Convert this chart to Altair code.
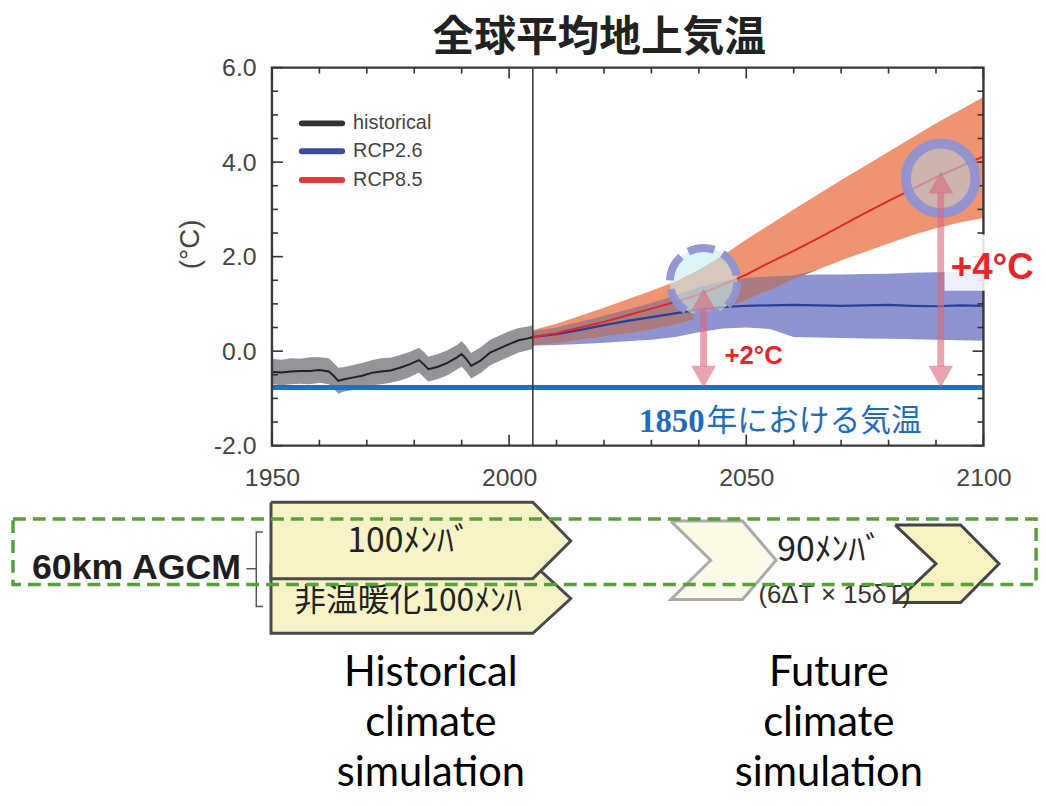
import altair as alt
import pandas as pd

# ---------------- data ----------------
title_text = "全球平均地上気温"
y_unit = "(°C)"

hist_years = [1950, 1952, 1954, 1956, 1958, 1960, 1962, 1963, 1964, 1965,
              1967, 1969, 1971, 1973, 1975, 1977, 1979, 1981, 1982, 1983,
              1985, 1987, 1989, 1990, 1991, 1992, 1994, 1996, 1998, 2000,
              2002, 2004, 2005]
hist_mean = [-0.44, -0.45, -0.43, -0.42, -0.42, -0.40, -0.43, -0.52, -0.63, -0.60,
             -0.56, -0.52, -0.46, -0.43, -0.41, -0.35, -0.28, -0.19, -0.28, -0.38,
             -0.33, -0.25, -0.13, -0.06, -0.17, -0.31, -0.20, -0.03, 0.06, 0.15,
             0.23, 0.27, 0.30]
hist_upper = [-0.16, -0.18, -0.15, -0.16, -0.13, -0.13, -0.15, -0.25, -0.35, -0.34,
              -0.30, -0.25, -0.19, -0.15, -0.14, -0.08, -0.02, 0.07, -0.01, -0.12,
              -0.06, 0.02, 0.13, 0.21, 0.10, -0.04, 0.08, 0.24, 0.33, 0.42,
              0.49, 0.52, 0.55]
hist_lower = [-0.70, -0.72, -0.70, -0.69, -0.70, -0.67, -0.70, -0.79, -0.90, -0.86,
              -0.82, -0.78, -0.72, -0.70, -0.67, -0.62, -0.55, -0.45, -0.55, -0.64,
              -0.59, -0.51, -0.39, -0.33, -0.44, -0.58, -0.46, -0.30, -0.21, -0.12,
              -0.03, 0.02, 0.05]

fut_years = [2005, 2010, 2015, 2020, 2025, 2030, 2035, 2040, 2045, 2050,
             2055, 2060, 2065, 2070, 2075, 2080, 2085, 2090, 2095, 2100]
rcp85_mean = [0.30, 0.38, 0.50, 0.62, 0.76, 0.90, 1.04, 1.20, 1.40, 1.62,
              1.88, 2.12, 2.38, 2.65, 2.92, 3.18, 3.43, 3.68, 3.90, 4.12]
rcp85_upper = [0.45, 0.58, 0.75, 0.92, 1.10, 1.28, 1.47, 1.72, 2.02, 2.36,
               2.68, 3.00, 3.31, 3.62, 3.92, 4.22, 4.52, 4.82, 5.10, 5.38]
rcp85_lower = [0.12, 0.17, 0.24, 0.31, 0.38, 0.46, 0.56, 0.70, 0.88, 1.08,
               1.30, 1.52, 1.72, 1.92, 2.10, 2.28, 2.45, 2.60, 2.72, 2.82]
rcp26_mean = [0.30, 0.36, 0.45, 0.55, 0.64, 0.72, 0.80, 0.88, 0.93, 0.96,
              0.97, 0.98, 0.97, 0.96, 0.97, 0.98, 0.96, 0.95, 0.97, 0.96]
rcp26_upper = [0.42, 0.50, 0.62, 0.75, 0.88, 1.02, 1.18, 1.35, 1.48, 1.55,
               1.58, 1.60, 1.62, 1.62, 1.63, 1.64, 1.66, 1.67, 1.68, 1.70]
rcp26_lower = [0.12, 0.13, 0.15, 0.18, 0.21, 0.24, 0.30, 0.40, 0.48, 0.50,
               0.47, 0.30, 0.29, 0.28, 0.27, 0.26, 0.25, 0.24, 0.23, 0.22]

t_1850 = -0.77
split_year = 2005

legend_labels = ["historical", "RCP2.6", "RCP8.5"]
legend_colors = ["#333333", "#3b4ca0", "#e23a3a"]

x_major = [1950, 2000, 2050, 2100]
x_minor = [1960, 1970, 1980, 1990, 2010, 2020, 2030, 2040, 2060, 2070, 2080, 2090]
y_major = [-2, 0, 2, 4, 6]
y_minor = [-1.5, -1, -0.5, 0.5, 1, 1.5, 2.5, 3, 3.5, 4.5, 5, 5.5]

# markers of +2 / +4 degree years
mark_years = [2041, 2091]
mark_temps = [1.47, 3.66]
arrow_tops = [1.32, 3.80]

# ---------------- helpers ----------------
xs = alt.Scale(domain=[1950, 2100], nice=False, zero=False)
ys = alt.Scale(domain=[-2, 6], nice=False, zero=False)

x_axis = alt.Axis(values=x_major, format="d", ticks=False, domain=False, grid=False,
                  labelFlush=False, labelOverlap=False, labelFontSize=25,
                  labelFont="Liberation Sans", labelColor="#444", labelPadding=20, title=None)
y_axis = alt.Axis(values=y_major,
                  labelExpr="datum.value < 0 ? '-' + format(-datum.value, '.1f') : format(datum.value, '.1f')",
                  ticks=False, domain=False, grid=False, labelFontSize=25,
                  labelFont="Liberation Sans", labelColor="#444", labelPadding=16, title=None)


def X(f):
    return alt.X(f, type="quantitative", scale=xs, axis=x_axis)


def Y(f):
    return alt.Y(f, type="quantitative", scale=ys, axis=y_axis)


def text_layer(x, y, text, **mk):
    df = pd.DataFrame({"x": [x], "y": [y], "t": [text]})
    return alt.Chart(df).mark_text(**mk).encode(x=X("x"), y=Y("y"), text="t:N")


def poly(px, py, **mk):
    px = list(px) + [px[0]]
    py = list(py) + [py[0]]
    df = pd.DataFrame({"x": px, "y": py, "o": list(range(len(px)))})
    return alt.Chart(df).mark_line(**mk).encode(x=X("x"), y=Y("y"), order=alt.Order("o:Q"))


hist_df = pd.DataFrame({"x": hist_years, "m": hist_mean, "lo": hist_lower, "hi": hist_upper})
fut_df = pd.DataFrame({"x": fut_years,
                       "r_m": rcp85_mean, "r_lo": rcp85_lower, "r_hi": rcp85_upper,
                       "b_m": rcp26_mean, "b_lo": rcp26_lower, "b_hi": rcp26_upper})

layers = []

# bands
layers.append(alt.Chart(hist_df).mark_area(color="#939398").encode(x=X("x"), y=Y("lo"), y2="hi"))
layers.append(alt.Chart(fut_df).mark_area(color="#8f93cf").encode(x=X("x"), y=Y("b_lo"), y2="b_hi"))
layers.append(alt.Chart(fut_df).mark_area(color="#ef9473").encode(x=X("x"), y=Y("r_lo"), y2="r_hi"))
layers.append(alt.Chart(fut_df).transform_calculate(
    olo="max(datum.r_lo, datum.b_lo)",
    ohi="max(max(datum.r_lo, datum.b_lo), min(datum.r_hi, datum.b_hi))"
).mark_area(color="#a97b82").encode(x=X("x"), y=Y("olo"), y2="ohi"))

# 1850 baseline
base_df = pd.DataFrame({"x": [1950], "x2": [2100], "y": [t_1850]})
layers.append(alt.Chart(base_df).mark_rule(color="#1f72c3", strokeWidth=5).encode(
    x=X("x"), x2="x2", y=Y("y")))

# lines
layers.append(alt.Chart(hist_df).mark_line(color="#222222", strokeWidth=2).encode(x=X("x"), y=Y("m")))
layers.append(alt.Chart(fut_df).mark_line(color="#2c3f98", strokeWidth=2.2).encode(x=X("x"), y=Y("b_m")))
layers.append(alt.Chart(fut_df).mark_line(color="#e6252a", strokeWidth=2).encode(x=X("x"), y=Y("r_m")))

# split line
split_df = pd.DataFrame({"x": [split_year], "y": [-2], "y2": [6]})
layers.append(alt.Chart(split_df).mark_rule(color="#333333", strokeWidth=1.5).encode(
    x=X("x"), y=Y("y"), y2="y2"))

# frame
frame_df = pd.DataFrame({"x": [1950], "x2": [2100], "y": [-2], "y2": [6]})
layers.append(alt.Chart(frame_df).mark_rect(fillOpacity=0, stroke="#3a3a3a", strokeWidth=2.4).encode(
    x=X("x"), x2="x2", y=Y("y"), y2="y2"))

# inward ticks
for vals, L in [(x_major, 11), (x_minor, 6)]:
    df = pd.DataFrame({"v": vals, "b": [-2] * len(vals), "t": [6] * len(vals)})
    layers.append(alt.Chart(df).mark_rule(color="#333333", strokeWidth=1.6, y2Offset=-L).encode(
        x=X("v"), y=Y("b"), y2="b"))
    layers.append(alt.Chart(df).mark_rule(color="#333333", strokeWidth=1.6, y2Offset=L).encode(
        x=X("v"), y=Y("t"), y2="t"))
for vals, L in [(y_major, 11), (y_minor, 6)]:
    df = pd.DataFrame({"v": vals, "l": [1950] * len(vals), "r": [2100] * len(vals)})
    layers.append(alt.Chart(df).mark_rule(color="#333333", strokeWidth=1.6, x2Offset=L).encode(
        y=Y("v"), x=X("l"), x2="l"))
    layers.append(alt.Chart(df).mark_rule(color="#333333", strokeWidth=1.6, x2Offset=-L).encode(
        y=Y("v"), x=X("r"), x2="r"))

# circles
c1 = pd.DataFrame({"x": [mark_years[0]], "y": [mark_temps[0]]})
c2 = pd.DataFrame({"x": [mark_years[1]], "y": [mark_temps[1]]})
layers.append(alt.Chart(c1).mark_point(shape="circle", size=4624, filled=True, fill="#c3ecef",
                                       fillOpacity=0.6, stroke="#8f92d2", strokeWidth=8,
                                       strokeOpacity=0.95, strokeDash=[27, 9]).encode(x=X("x"), y=Y("y")))
layers.append(alt.Chart(c2).mark_point(shape="circle", size=4900, filled=True, fill="#b8c6cf",
                                       fillOpacity=0.65, stroke="#8f92d2", strokeWidth=10,
                                       strokeOpacity=0.95).encode(x=X("x"), y=Y("y")))

# arrows
arr_df = pd.DataFrame({"x": mark_years, "top": arrow_tops, "bot": [t_1850, t_1850]})
layers.append(alt.Chart(arr_df).mark_rule(color="#d8697b", opacity=0.6, strokeWidth=7,
                                          yOffset=21, y2Offset=-21).encode(
    x=X("x"), y=Y("top"), y2="bot"))
layers.append(alt.Chart(arr_df).mark_point(shape="M0,-0.88L1,0.88L-1,0.88Z", size=625, filled=True,
                                           fill="#d8697b", fillOpacity=0.6, strokeWidth=0,
                                           yOffset=11).encode(x=X("x"), y=Y("top")))
layers.append(alt.Chart(arr_df).mark_point(shape="M0,0.88L1,-0.88L-1,-0.88Z", size=625, filled=True,
                                           fill="#d8697b", fillOpacity=0.6, strokeWidth=0,
                                           yOffset=-11).encode(x=X("x"), y=Y("bot")))

# +4 label box and texts
box_df = pd.DataFrame({"x": [2091.8], "x2": [2118], "y": [1.28], "y2": [2.47]})
layers.append(alt.Chart(box_df).mark_rect(color="white", opacity=0.85).encode(
    x=X("x"), x2="x2", y=Y("y"), y2="y2"))
layers.append(text_layer(2045.4, -0.11, "+2°C", align="left", baseline="middle",
                         font="Liberation Sans", fontWeight="bold", fontSize=26, color="#e8252b"))
layers.append(text_layer(2093.1, 1.76, "+4°C", align="left", baseline="middle",
                         font="Liberation Sans", fontWeight="bold", fontSize=37, color="#e8252b"))
layers.append(text_layer(2041.2, -1.50, "1850", align="right", baseline="middle",
                         font="Liberation Serif", fontWeight="bold", fontSize=33, color="#1f6cbf"))
layers.append(text_layer(2041.6, -1.50, "年における気温", align="left", baseline="middle",
                         font="Noto Sans CJK JP", fontSize=31, color="#1f6cbf"))

# legend
leg_df = pd.DataFrame({"x": [1956.3] * 3, "x2": [1964.8] * 3, "lx": [1967.1] * 3,
                       "y": [4.82, 4.23, 3.62], "c": legend_colors, "label": legend_labels})
layers.append(alt.Chart(leg_df).mark_rule(strokeWidth=6, strokeCap="round").encode(
    x=X("x"), x2="x2", y=Y("y"), color=alt.Color("c:N", scale=None)))
layers.append(alt.Chart(leg_df).mark_text(align="left", baseline="middle", font="Liberation Sans",
                                          fontSize=20, color="#444").encode(
    x=X("lx"), y=Y("y"), text="label:N"))

# title and unit
layers.append(text_layer(2019.0, 6.630, title_text, align="center", baseline="middle",
                         font="Noto Sans CJK JP", fontWeight="bold", fontSize=42, color="#222"))
layers.append(text_layer(1933.05, 2.26, y_unit, align="center", baseline="middle", angle=270,
                         font="Liberation Sans", fontSize=28, color="#444"))

# ---------------- timeline (below) ----------------
chev_fill = "#f6f4c6"
layers.append(poly([1949.8, 2005.0, 2013.0, 2005.0, 1949.8], [-4.50, -4.50, -5.234, -5.969, -5.969],
                   fill=chev_fill, stroke="#4a4a4a", strokeWidth=3))
layers.append(poly([1949.8, 2005.0, 2013.0, 2005.0, 1949.8], [-3.197, -3.197, -4.016, -4.814, -4.814],
                   fill=chev_fill, stroke="#4a4a4a", strokeWidth=3))
layers.append(poly([2034.1, 2049.2, 2056.3, 2049.2, 2034.1, 2042.5],
                   [-3.596, -3.596, -4.425, -5.255, -5.255, -4.425],
                   fill="#fbfae9", stroke="#aaaaaa", strokeWidth=3))
layers.append(poly([2081.4, 2095.2, 2103.3, 2095.2, 2081.4, 2090.0],
                   [-3.680, -3.680, -4.499, -5.318, -5.318, -4.499],
                   fill="#f6f3c2", stroke="#444444", strokeWidth=3))

layers.append(text_layer(1978.9, -4.037, "100ﾒﾝﾊﾞ", align="center", baseline="middle",
                         font="Noto Sans CJK JP", fontSize=34, color="#222"))
layers.append(text_layer(1978.7, -5.297, "非温暖化100ﾒﾝﾊ", align="center", baseline="middle",
                         font="Noto Sans CJK JP", fontSize=32, color="#222"))
layers.append(text_layer(2067.6, -4.226, "90ﾒﾝﾊﾞ", align="center", baseline="middle",
                         font="Noto Sans CJK JP", fontSize=34, color="#222"))
layers.append(text_layer(2068.6, -5.171, "(6ΔT × 15δT)", align="center", baseline="middle",
                         font="Liberation Sans", fontSize=26, color="#333"))

layers.append(text_layer(1899.4, -4.583, "60km AGCM", align="left", baseline="middle",
                         font="Liberation Sans", fontWeight="bold", fontSize=36, color="#1e1e1e"))
layers.append(poly([1948.1, 1946.7, 1946.7, 1948.1], [-3.827, -3.827, -5.402, -5.402],
                   color="#555555", strokeWidth=1.5).transform_filter("datum.o < 4"))
dash_df = pd.DataFrame({"x": [1944.6], "x2": [1946.7], "y": [-4.604]})
layers.append(alt.Chart(dash_df).mark_rule(color="#555555", strokeWidth=1.5).encode(
    x=X("x"), x2="x2", y=Y("y")))

gbox = pd.DataFrame({"x": [1895.4], "x2": [2111.1], "y": [-3.554], "y2": [-4.940]})
layers.append(alt.Chart(gbox).mark_rect(fillOpacity=0, stroke="#5a9f3c", strokeWidth=3.5,
                                        strokeDash=[13, 7]).encode(
    x=X("x"), x2="x2", y=Y("y"), y2="y2"))

bottom_df = pd.DataFrame({
    "x": [1983.5, 2067.4],
    "y": [-7.081, -7.081],
    "t": ["Historical\nclimate\nsimulation", "Future\nclimate\nsimulation"]})
layers.append(alt.Chart(bottom_df).mark_text(align="center", baseline="alphabetic", font="Lato",
                                             fontSize=42, lineHeight=50.5, lineBreak="\n",
                                             color="#000").encode(
    x=X("x"), y=Y("y"), text="t:N"))

chart = alt.layer(*layers).properties(
    width=717, height=381,
    padding={"left": 266, "top": 57, "right": 55, "bottom": 352},
    autosize=alt.AutoSizeParams(type="none"),
    background="white",
).configure_view(strokeWidth=0)

chart.save("out.html", embed_options={"renderer": "svg", "actions": False})
